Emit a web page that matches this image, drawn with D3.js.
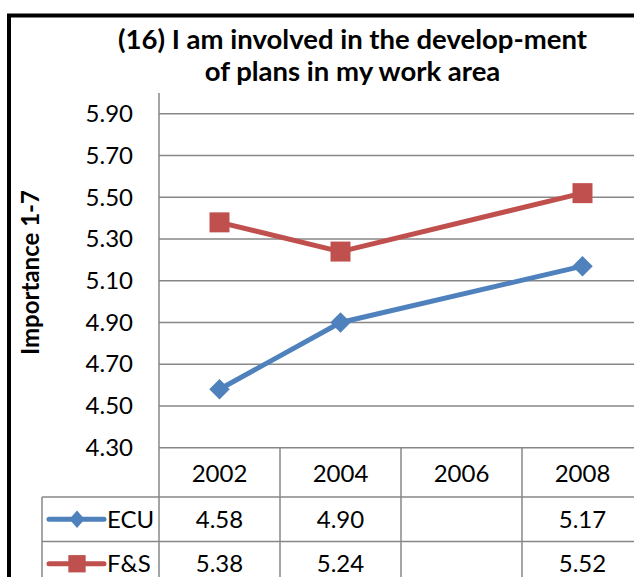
<!DOCTYPE html>
<html><head><meta charset="utf-8">
<script src="https://cdn.jsdelivr.net/npm/d3@7"></script>
<style>body{margin:0;background:#fff;overflow:hidden} svg{display:block}</style>
</head><body>
<script>
// ---- data ----
const years = ["2002", "2004", "2006", "2008"];
const ecuValues = [4.58, 4.90, null, 5.17];
const fsValues = [5.38, 5.24, null, 5.52];
const seriesNames = ["ECU", "F&S"];
const yTickValues = [4.30, 4.50, 4.70, 4.90, 5.10, 5.30, 5.50, 5.70, 5.90];
const titleLines = ["(16) I am involved in the develop-ment", "of plans in my work area"];
const yAxisTitle = "Importance 1-7";

// ---- layout ----
const W = 634, H = 577;
const FONT = "Lato, 'Open Sans', sans-serif";
const FS = 24;
const plotLeft = 159, plotTop = 93, plotBottom = 447.7;
const gridColor = "#878787";
const colors = ["#4F81BD", "#C0504D"];

const svg = d3.select("body").append("svg").attr("width", W).attr("height", H);

const x = d3.scaleBand().domain(years).range([plotLeft, plotLeft + 4 * 121]);
const y = d3.scaleLinear().domain([4.3, 6.0]).range([plotBottom, plotTop]);

// outer border
svg.append("path")
  .attr("d", `M9,${H}V15.5H${W}`)
  .attr("fill", "none").attr("stroke", "#000").attr("stroke-width", 4);

// title
svg.append("g").selectAll("text").data(titleLines).join("text")
  .attr("x", 352.5).attr("y", (d, i) => 49 + i * 32)
  .attr("text-anchor", "middle")
  .attr("font-family", FONT).attr("font-weight", "bold").attr("font-size", 27.5)
  .attr("fill", "#000").text(d => d);

// gridlines
svg.append("g").selectAll("line").data(yTickValues.slice(1)).join("line")
  .attr("x1", plotLeft).attr("x2", W)
  .attr("y1", d => y(d)).attr("y2", d => y(d))
  .attr("stroke", gridColor).attr("stroke-width", 1.5);

// y axis
const yAxis = d3.axisLeft(y).tickValues(yTickValues).tickFormat(d3.format(".2f")).tickSize(0).tickPadding(26);
const gy = svg.append("g").attr("transform", `translate(${plotLeft},0)`).call(yAxis);
gy.select(".domain").attr("stroke", gridColor).attr("stroke-width", 1.5)
  .attr("d", `M0,${plotTop}V${plotBottom}`);
gy.selectAll("text").attr("font-family", FONT).attr("font-size", FS).attr("fill", "#000");

// y axis title
svg.append("text")
  .attr("transform", `translate(39,${(190 + 355) / 2}) rotate(-90)`)
  .attr("text-anchor", "middle")
  .attr("font-family", FONT).attr("font-weight", "bold").attr("font-size", 24)
  .attr("fill", "#000").text(yAxisTitle);

// data table
const rowTops = [plotBottom, 497, 541.5, 586];
const tbl = svg.append("g").attr("stroke", gridColor).attr("stroke-width", 1.5);
tbl.append("line").attr("x1", plotLeft).attr("x2", W).attr("y1", rowTops[0]).attr("y2", rowTops[0]);
[rowTops[1], rowTops[2]].forEach(yy => tbl.append("line").attr("x1", 42).attr("x2", W).attr("y1", yy).attr("y2", yy));
years.forEach(yr => tbl.append("line").attr("x1", x(yr)).attr("x2", x(yr)).attr("y1", rowTops[0]).attr("y2", H));
tbl.append("line").attr("x1", 42).attr("x2", 42).attr("y1", rowTops[1]).attr("y2", H);

// header
svg.append("g").selectAll("text").data(years).join("text")
  .attr("x", d => x(d) + x.bandwidth() / 2).attr("y", 481.5)
  .attr("text-anchor", "middle")
  .attr("font-family", FONT).attr("font-size", FS).attr("fill", "#000").text(d => d);

// marker shapes: diamond = square rotated 45deg
function marker(si, size) {
  return d3.symbol().type(d3.symbolSquare).size(size)();
}
const markerRot = si => si === 0 ? " rotate(45)" : "";

const allSeries = [ecuValues, fsValues];
allSeries.forEach((vals, si) => {
  const cy = (rowTops[si + 1] + rowTops[si + 2]) / 2;
  svg.append("g").selectAll("text").data(years.map((yr, i) => ({yr, v: vals[i]})).filter(d => d.v != null)).join("text")
    .attr("x", d => x(d.yr) + x.bandwidth() / 2).attr("y", cy + 8.5)
    .attr("text-anchor", "middle")
    .attr("font-family", FONT).attr("font-size", FS).attr("fill", "#000").text(d => d.v.toFixed(2));
  // legend key
  svg.append("line").attr("x1", 49).attr("x2", 104).attr("y1", cy).attr("y2", cy)
    .attr("stroke", colors[si]).attr("stroke-width", 5).attr("stroke-linecap", "round");
  svg.append("path").attr("d", marker(si, si === 0 ? 130 : 300))
    .attr("transform", `translate(77,${cy})${si === 0 ? " scale(0.95,1.1)" : ""}${markerRot(si)}`)
    .attr("fill", colors[si]);
  svg.append("text").attr("x", 107).attr("y", cy + 8.5)
    .attr("font-family", FONT).attr("font-size", FS).attr("fill", "#000").text(seriesNames[si]);
});

// lines & markers
const line = d3.line().x(d => x(d.yr) + x.bandwidth() / 2).y(d => y(d.v));
allSeries.forEach((vals, si) => {
  const pts = years.map((yr, i) => ({yr, v: vals[i]})).filter(d => d.v != null);
  svg.append("path").datum(pts).attr("d", line)
    .attr("fill", "none").attr("stroke", colors[si]).attr("stroke-width", 5).attr("stroke-linejoin", "round");
  svg.append("g").selectAll("path").data(pts).join("path")
    .attr("d", marker(si, si === 0 ? 210 : 400))
    .attr("transform", d => `translate(${x(d.yr) + x.bandwidth() / 2},${y(d.v)})${markerRot(si)}`)
    .attr("fill", colors[si]);
});
</script>
</body></html>
